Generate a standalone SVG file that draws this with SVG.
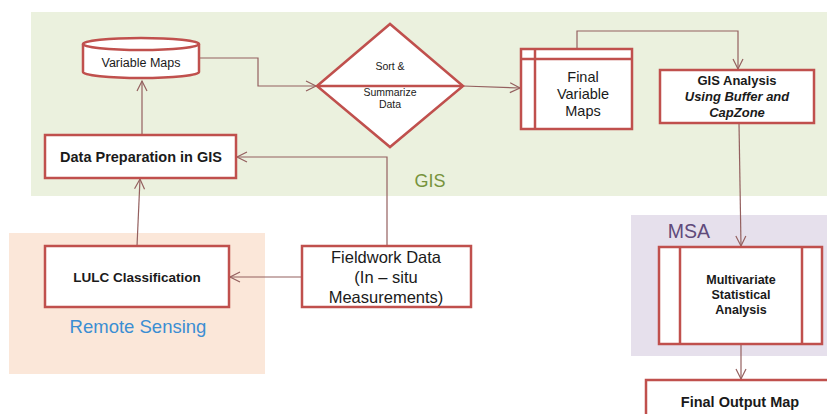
<svg xmlns="http://www.w3.org/2000/svg" width="827" height="414" viewBox="0 0 827 414">
<style>
.panel{stroke:none}
.box{fill:#ffffff;stroke:#c0504d;stroke-width:2.5}
.inner{fill:none;stroke:#c0504d;stroke-width:2.5}
.conn{fill:none;stroke:#94605f;stroke-width:1.2}
text{font-family:"Liberation Sans",Arial,sans-serif;fill:#1a1a1a;text-anchor:middle}
.b{font-weight:bold}
.bi{font-weight:bold;font-style:italic}
</style>
<defs>
<marker id="arr" markerUnits="userSpaceOnUse" markerWidth="14" markerHeight="14" viewBox="-12 -7 14 14" refX="0" refY="0" orient="auto">
<path d="M-10,-5 L0,0 L-10,5" fill="none" stroke="#94605f" stroke-width="1.2"/>
</marker>
</defs>
<g id="panels">
<rect id="gis-panel" class="panel" x="31" y="12" width="796" height="184" fill="#ebf1de"/>
<rect id="rs-panel" class="panel" x="9" y="233" width="256" height="141" fill="#fbe7d9"/>
<rect id="msa-panel" class="panel" x="631" y="215" width="196" height="141" fill="#e6e0ec"/>
<text x="430" y="187" font-size="18" style="fill:#77933c">GIS</text>
<text x="138" y="333" font-size="18.5" style="fill:#3b8ed3">Remote Sensing</text>
<text x="689" y="238" font-size="19.5" style="fill:#604a7b">MSA</text>
</g>
<g id="connectors">
<path class="conn" d="M200,58 H258 V86 H316" marker-end="url(#arr)"/>
<path class="conn" d="M142,135 V81" marker-end="url(#arr)"/>
<path class="conn" d="M387,246 V157 H237" marker-end="url(#arr)"/>
<path class="conn" d="M137,246 L140,179" marker-end="url(#arr)"/>
<path class="conn" d="M302,277 H230" marker-end="url(#arr)"/>
<path class="conn" d="M463,86 L520,88" marker-end="url(#arr)"/>
<path class="conn" d="M577,49 V31 H738 V69" marker-end="url(#arr)"/>
<path class="conn" d="M739,123 L741,246" marker-end="url(#arr)"/>
<path class="conn" d="M741,344 V379" marker-end="url(#arr)"/>
</g>
<g id="variable-maps">
<path class="box" d="M83,44 V72 A58,6 0 0 0 199,72 V44 A58,6 0 0 0 83,44 Z"/>
<path class="inner" d="M83,44 A58,6 0 0 0 199,44"/>
<text x="141" y="67" font-size="12.5">Variable Maps</text>
</g>
<g id="sort-summarize">
<path class="box" d="M317,86 L390,24 L463,86 L390,147 Z"/>
<line class="inner" x1="317" y1="86" x2="463" y2="86"/>
<text x="390" y="70" font-size="10.5">Sort &amp;</text>
<text x="390" y="96" font-size="10.5">Summarize</text>
<text x="390" y="108" font-size="10.5">Data</text>
</g>
<g id="final-variable-maps">
<rect class="box" x="521" y="49" width="111" height="80"/>
<line class="inner" x1="535" y1="49" x2="535" y2="129"/>
<line class="inner" x1="521" y1="59" x2="632" y2="59"/>
<text x="583" y="82" font-size="14.5">Final</text>
<text x="583" y="99" font-size="14.5">Variable</text>
<text x="583" y="116" font-size="14.5">Maps</text>
</g>
<g id="gis-analysis">
<rect class="box" x="660" y="70" width="154" height="53"/>
<text class="b" x="737" y="85" font-size="13">GIS Analysis</text>
<text class="bi" x="737" y="101" font-size="13">Using Buffer and</text>
<text class="bi" x="737" y="117" font-size="13">CapZone</text>
</g>
<g id="data-preparation">
<rect class="box" x="45" y="135" width="191" height="43"/>
<text class="b" x="141" y="162" font-size="14.5">Data Preparation in GIS</text>
</g>
<g id="lulc-classification">
<rect class="box" x="45" y="246" width="184" height="61"/>
<text class="b" x="137" y="282" font-size="13.5">LULC Classification</text>
</g>
<g id="fieldwork-data">
<rect class="box" x="302" y="246" width="169" height="61"/>
<text x="386" y="263" font-size="16.5">Fieldwork Data</text>
<text x="386" y="283" font-size="16.5">(In – situ</text>
<text x="386" y="303" font-size="16.5">Measurements)</text>
</g>
<g id="multivariate">
<rect class="box" x="659" y="247" width="163" height="97"/>
<line class="inner" x1="680" y1="247" x2="680" y2="344"/>
<line class="inner" x1="802" y1="247" x2="802" y2="344"/>
<text class="b" x="741" y="284" font-size="12.5">Multivariate</text>
<text class="b" x="741" y="299" font-size="12.5">Statistical</text>
<text class="b" x="741" y="314" font-size="12.5">Analysis</text>
</g>
<g id="final-output-map">
<rect class="box" x="646" y="380" width="200" height="50"/>
<text class="b" x="740" y="407" font-size="14.5">Final Output Map</text>
</g>
</svg>
